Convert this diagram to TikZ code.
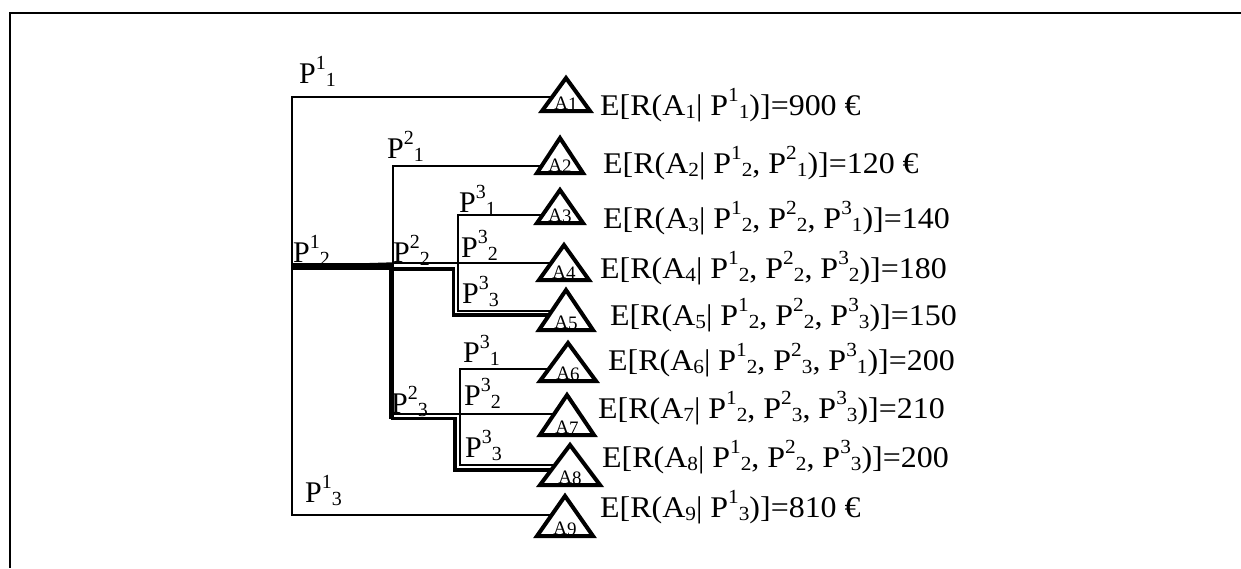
\documentclass[tikz,border=0pt]{standalone}
\usepackage{fontspec}
\setmainfont{Liberation Serif}
\newcommand\sps[1]{\raisebox{0.45em}{\fontsize{20}{20}\selectfont #1}}
\newcommand\sbs[1]{\raisebox{-0.1em}{\fontsize{20}{20}\selectfont #1}}
\newcommand\PP[2]{P\sps{#1}\sbs{#2}}
\newcommand\AS[1]{A\sbs{#1}}
\newcommand\wide[1]{\scalebox{1.065}[1]{#1}}
\newcommand\mytri[6]{%
  \draw[tri] ({#2-#5+2},{#4-2}) -- (#2,{#3+3}) -- ({#2+#5-2},{#4-2}) -- cycle;
  \node[alab] (#1) at (#2,{#4-4}) {A\raisebox{-0.1em}{#6}};}
\tikzset{
  thinline/.style={line width=1.4pt, line join=miter},
  fatline/.style={line width=6.5pt, line join=miter},
  midline/.style={line width=3.6pt, line join=miter},
  tri/.style={line width=4pt, fill=white, line join=miter},
  alab/.style={anchor=base, inner sep=0pt, font=\fontsize{19}{19}\selectfont},
  plab/.style={anchor=base west, inner sep=0pt, font=\fontsize{30}{32}\selectfont},
  rtxt/.style={anchor=base west, inner sep=0pt, font=\fontsize{30}{32}\selectfont}
}
\begin{document}
\begin{tikzpicture}[x=1pt,y=-1pt]
\useasboundingbox (0,0) rectangle (1241,568);
% frame
\draw[line width=2.2pt] (9,13) -- (1241,13);
\draw[line width=2.2pt] (10,12) -- (10,568);
% junctions
\coordinate (j1a) at (292,97);
\coordinate (j1b) at (292,266);
\coordinate (j1c) at (292,515);
\coordinate (j2a) at (393,166);
\coordinate (j2b) at (393,263);
\coordinate (j2c) at (393,414);
\coordinate (j3a) at (458,215);
\coordinate (j3c) at (458,311);
\coordinate (j4a) at (460,369);
\coordinate (j4c) at (460,465);
\coordinate (k0) at (394,266.5);
\coordinate (k1) at (391,264);
\coordinate (k2) at (391,418.5);
\coordinate (m1) at (393,269);
\coordinate (m2) at (453.5,269);
\coordinate (m3) at (453.5,315);
\coordinate (n1) at (455,418.5);
\coordinate (n2) at (455,470);
% line ends at triangles
\coordinate (e1) at (566,97);
\coordinate (e2) at (560,166);
\coordinate (e3) at (560,215);
\coordinate (e4) at (564,263);
\coordinate (e5) at (566,311);
\coordinate (e5b) at (566,315);
\coordinate (e6) at (568,369);
\coordinate (e7) at (567,414);
\coordinate (e8) at (570,465);
\coordinate (e8b) at (570,470);
\coordinate (e9) at (565,515);
% thin tree
\draw[thinline] (e1) -- (j1a) -- (j1c) -- (e9);
\draw[thinline] (j1b) -- (j2b);
\draw[thinline] (e2) -- (j2a) -- (j2c) -- (e7);
\draw[thinline] (j2b) -- (e4);
\draw[thinline] (e3) -- (j3a) -- (j3c) -- (e5);
\draw[thinline] (e6) -- (j4a) -- (j4c) -- (e8);
% optimal paths
\draw[fatline] (j1b |- k0) -- (k0);
\draw[line width=5pt] (k1) -- (k2);
\draw[midline] (m1) -- (m2) -- (m3) -- (e5b);
\draw[midline] (k2) -- (n1) -- (n2) -- (e8b);
% triangles
\mytri{t1}{566}{75}{113}{26}{1}
\mytri{t2}{560}{135}{175}{25}{2}
\mytri{t3}{560}{187}{225}{25}{3}
\mytri{t4}{564}{242}{282}{27}{4}
\mytri{t5}{566}{287}{332}{29}{5}
\mytri{t6}{568}{340}{383}{30}{6}
\mytri{t7}{567}{392}{437}{29}{7}
\mytri{t8}{570}{442}{487}{32}{8}
\mytri{t9}{565}{493}{538}{30}{9}
% branch labels
\node[plab] (p11) at (299,83) {\PP{1}{1}};
\node[plab] (p21) at (387,158) {\PP{2}{1}};
\node[plab] (p31a) at (459,212) {\PP{3}{1}};
\node[plab] (p12) at (293,262) {\PP{1}{2}};
\node[plab] (p22) at (393,262) {\PP{2}{2}};
\node[plab] (p32a) at (461,257) {\PP{3}{2}};
\node[plab] (p33a) at (462,303) {\PP{3}{3}};
\node[plab] (p31b) at (463,362) {\PP{3}{1}};
\node[plab] (p32b) at (464,405) {\PP{3}{2}};
\node[plab] (p23) at (391,413) {\PP{2}{3}};
\node[plab] (p33b) at (465,457) {\PP{3}{3}};
\node[plab] (p13) at (305,502) {\PP{1}{3}};
% result texts
\node[rtxt] (r1) at (600,115) {\wide{E[R(\AS{1}| \PP{1}{1})]=900 €}};
\node[rtxt] (r2) at (603,173) {\wide{E[R(\AS{2}| \PP{1}{2}, \PP{2}{1})]=120 €}};
\node[rtxt] (r3) at (603,228) {\wide{E[R(\AS{3}| \PP{1}{2}, \PP{2}{2}, \PP{3}{1})]=140}};
\node[rtxt] (r4) at (600,278) {\wide{E[R(\AS{4}| \PP{1}{2}, \PP{2}{2}, \PP{3}{2})]=180}};
\node[rtxt] (r5) at (610,325) {\wide{E[R(\AS{5}| \PP{1}{2}, \PP{2}{2}, \PP{3}{3})]=150}};
\node[rtxt] (r6) at (608,370) {\wide{E[R(\AS{6}| \PP{1}{2}, \PP{2}{3}, \PP{3}{1})]=200}};
\node[rtxt] (r7) at (598,418) {\wide{E[R(\AS{7}| \PP{1}{2}, \PP{2}{3}, \PP{3}{3})]=210}};
\node[rtxt] (r8) at (602,467) {\wide{E[R(\AS{8}| \PP{1}{2}, \PP{2}{2}, \PP{3}{3})]=200}};
\node[rtxt] (r9) at (600,517) {\wide{E[R(\AS{9}| \PP{1}{3})]=810 €}};
\end{tikzpicture}
\end{document}
